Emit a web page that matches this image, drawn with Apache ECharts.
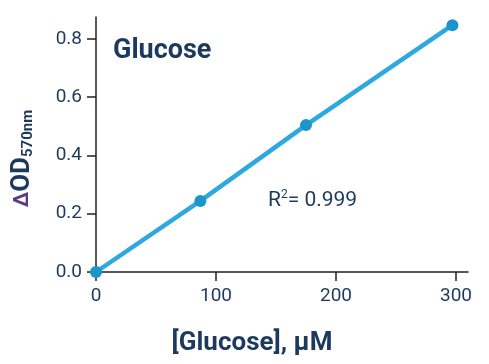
<!DOCTYPE html>
<html><head><meta charset="utf-8">
<script src="https://cdn.jsdelivr.net/npm/echarts@6/dist/echarts.min.js"></script>
<style>html,body{margin:0;padding:0;background:#fff}#c{width:489px;height:364px}</style>
</head><body><div id="c"></div>
<script>
const concentrations = [0, 87, 175, 297];
const deltaOD = [0.0, 0.244, 0.504, 0.847];
const xTicks = [0, 100, 200, 300];
const yTicks = [0, 0.2, 0.4, 0.6, 0.8];
const chartTitle = 'Glucose';
const r2Text = '= 0.999';

const navy = '#1d3a5e';
const chart = echarts.init(document.getElementById('c'));
chart.setOption({
  animation: false,
  textStyle: { fontFamily: 'Roboto' },
  title: { text: chartTitle, left: 108, top: 33,
    textStyle: { fontFamily: 'Roboto', fontWeight: 'bold', fontSize: 27, color: navy } },
  grid: { left: 96, right: 21, top: 17, bottom: 92, outerBoundsMode: 'none', containLabel: false },
  xAxis: {
    type: 'value', min: 0, max: 310,
    axisLine: { show: true, lineStyle: { color: '#222', width: 1.5 } },
    axisTick: { show: true, length: 9, lineStyle: { color: '#222', width: 1.5 }, customValues: xTicks },
    axisLabel: { customValues: xTicks, color: navy, fontSize: 19, margin: 15, fontFamily: 'Roboto' },
    splitLine: { show: false },
    name: '[Glucose], μM', nameLocation: 'middle', nameGap: 58,
    nameTextStyle: { fontFamily: 'Roboto', fontWeight: 'bold', fontSize: 26, color: navy, padding: [0, 60, 0, 0] }
  },
  yAxis: {
    type: 'value', min: 0, max: 0.875,
    axisLine: { show: true, lineStyle: { color: '#222', width: 1.5 } },
    axisTick: { show: true, length: 9, lineStyle: { color: '#222', width: 1.5 }, customValues: yTicks },
    axisLabel: { customValues: yTicks, color: navy, fontSize: 19, margin: 14, fontFamily: 'Roboto',
      formatter: v => v.toFixed(1) },
    splitLine: { show: false },
    name: '{d|Δ}{o|OD}{s|570nm}', nameLocation: 'middle', nameGap: 60, nameRotate: 90,
    nameTextStyle: { rich: {
      d: { color: '#5b3a7e', fontSize: 21, fontWeight: 'bold', fontFamily: 'Roboto' },
      o: { color: navy, fontSize: 26, fontWeight: 'bold', fontFamily: 'Roboto' },
      s: { color: navy, fontSize: 15, fontWeight: 'bold', fontFamily: 'Roboto', padding: [12, 28, 0, 0] }
    } }
  },
  series: [{
    type: 'line',
    data: concentrations.map((x, i) => [x, deltaOD[i]]),
    clip: false,
    symbol: 'circle', symbolSize: 12,
    lineStyle: { color: '#2ea9df', width: 4.5 },
    itemStyle: { color: '#1b95cc' },
    z: 5
  }],
  graphic: [{
    type: 'text', left: 268, top: 189,
    style: { text: '{r|R}{p|2}{t|' + r2Text + '}',
      rich: {
        r: { fontFamily: 'Roboto', fontSize: 21, fill: navy },
        p: { fontFamily: 'Roboto', fontSize: 12, fill: navy, padding: [0, 0, 12, 0] },
        t: { fontFamily: 'Roboto', fontSize: 21, fill: navy }
      } }
  }]
});
</script></body></html>
